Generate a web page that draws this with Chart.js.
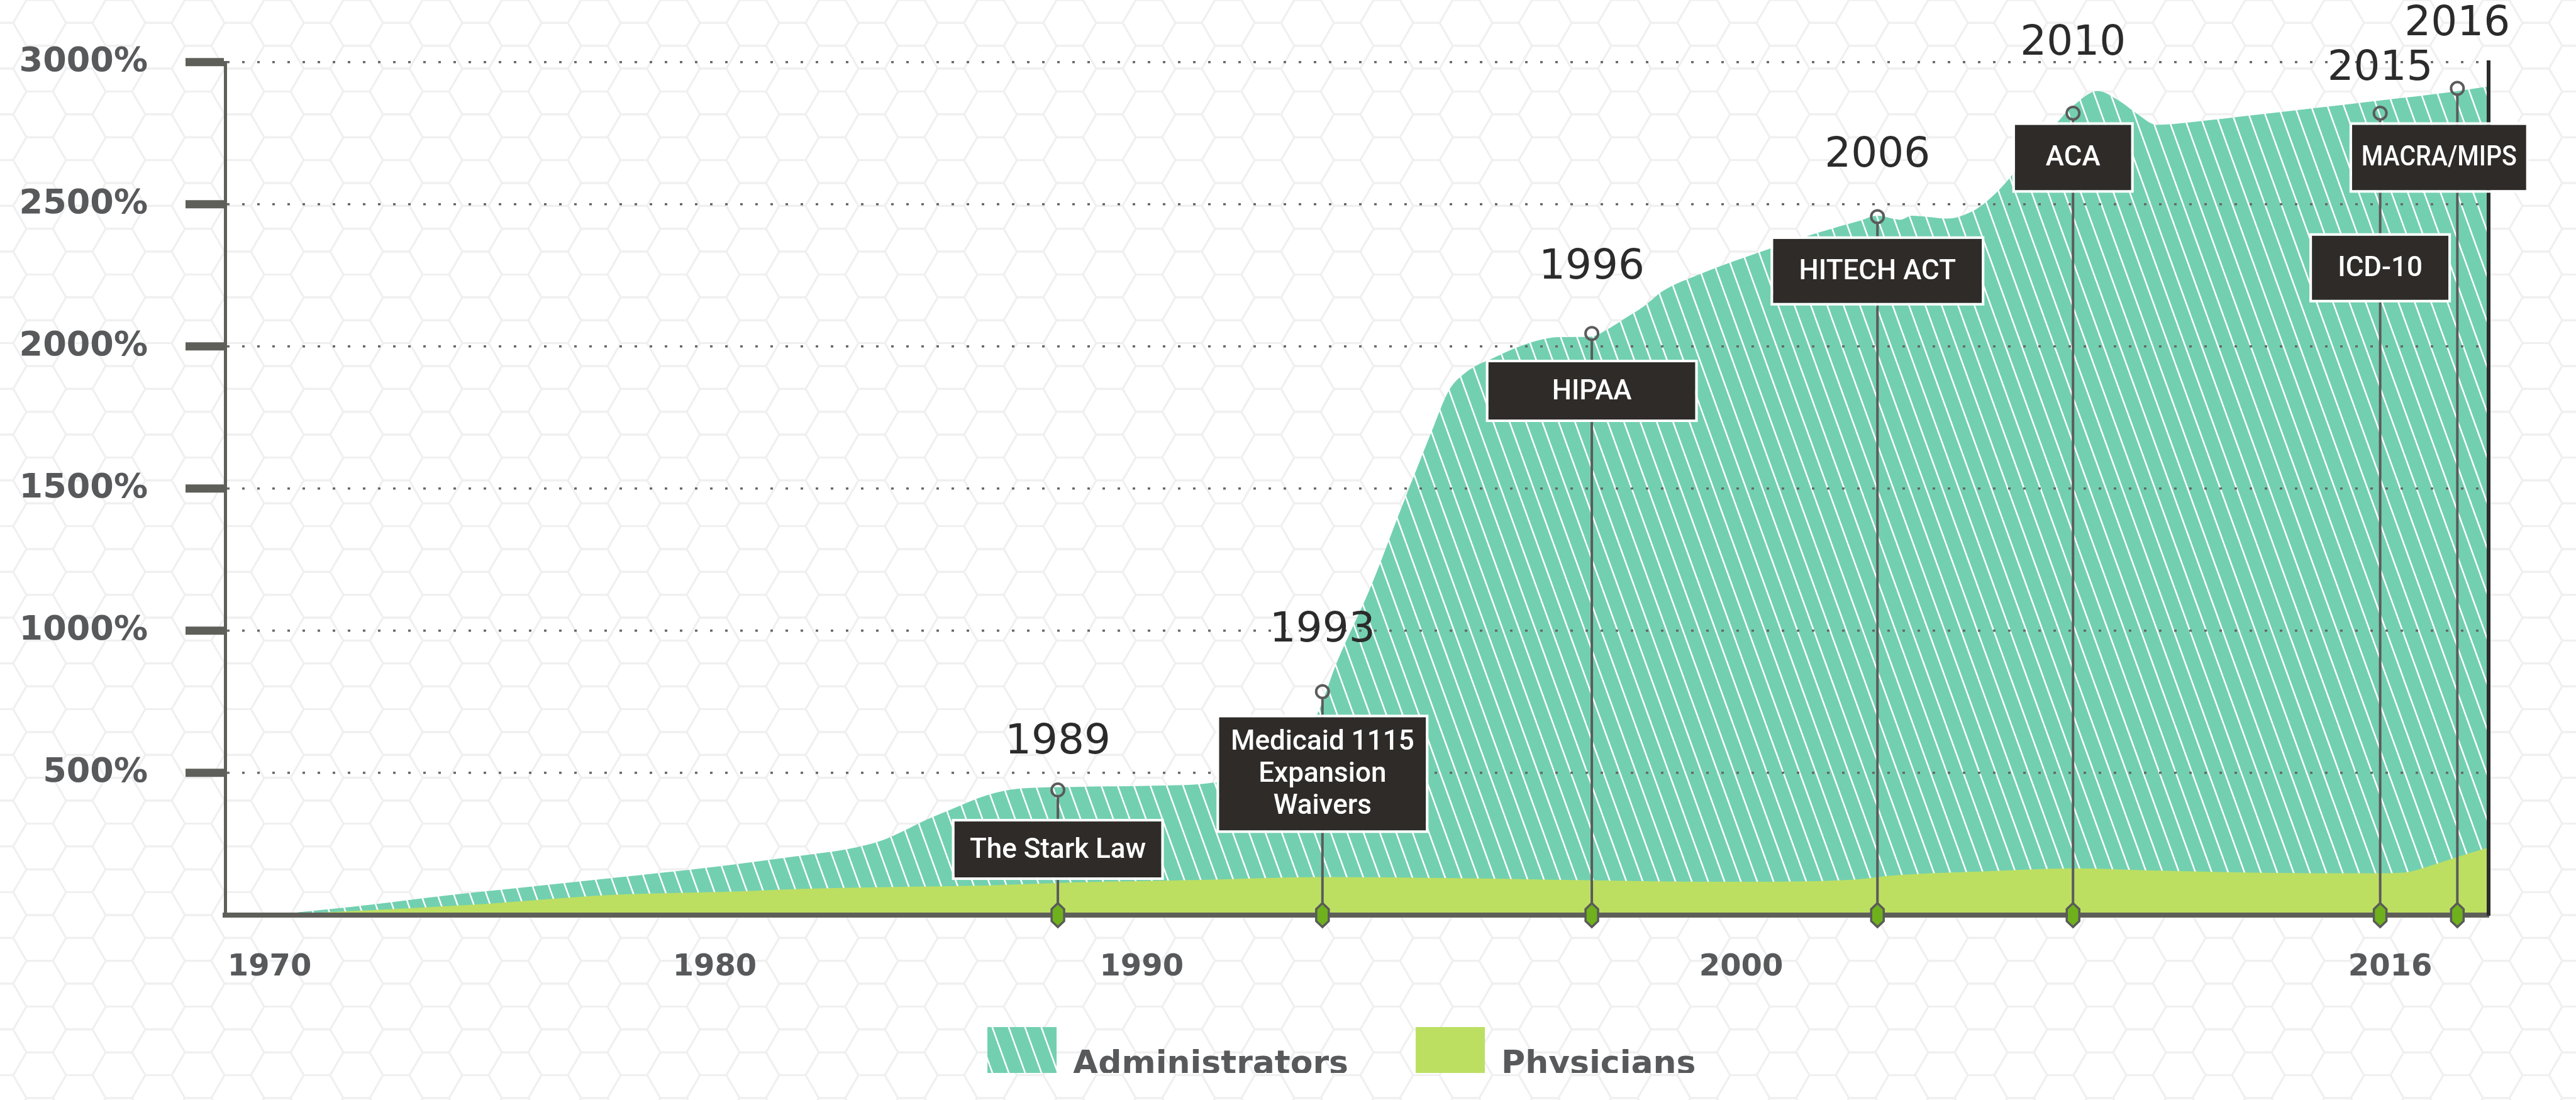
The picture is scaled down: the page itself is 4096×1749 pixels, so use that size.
<!DOCTYPE html>
<html>
<head>
<meta charset="utf-8">
<script src="https://cdn.jsdelivr.net/npm/chart.js@4.4.1/dist/chart.umd.min.js"></script>
<style>
  html, body { margin: 0; padding: 0; background: #fff; }
  #wrap { width: 4096px; height: 1749px; }
</style>
</head>
<body>
<div id="wrap"><canvas id="chart" width="4096" height="1749"></canvas></div>
<script>
// ---------- Data ----------
const adminYears = [1970, 1971.8, 1973.8, 1975.8, 1977.8, 1979.85, 1982.2, 1983.4, 1984.0, 1984.5,
  1985.0, 1985.4, 1986.1, 1987.2, 1988.0, 1989.2, 1990.2, 1991.2, 1992.0, 1992.9,
  1993.16, 1993.53, 1993.88, 1994.22, 1994.41, 1994.58, 1994.94, 1995.3, 1995.63, 1996.0,
  1996.4, 1996.84, 1997.4, 1997.9, 1998.9, 2000.0, 2001.7, 2003.5, 2005.24, 2006.0,
  2006.47, 2006.7, 2007.04, 2007.45, 2007.87, 2008.18, 2008.52, 2008.76, 2009.66, 2010.0,
  2010.4, 2010.79, 2011.04, 2011.36, 2011.95, 2012.94, 2013.9, 2014.89, 2015.68, 2016.4];
const adminValues = [0, 28, 66, 99, 132, 167, 208, 230, 247, 268,
  299, 326, 366, 424, 445, 451, 455, 466, 520, 702,
  889, 1149, 1433, 1704, 1846, 1905, 1965, 2012, 2033, 2035,
  2059, 2095, 2142, 2195, 2255, 2309, 2356, 2403, 2443, 2460,
  2446, 2460, 2456, 2450, 2470, 2503, 2557, 2604, 2785, 2846,
  2899, 2859, 2819, 2780, 2790, 2814, 2838, 2863, 2887, 2915];

const physYears = [1970, 1974.5, 1977.8, 1980.3, 1982.2, 1985.3, 1987.1, 1989.2, 1991.0, 1993.0,
  1994.5, 1996.1, 1999.1, 2003.0, 2005.35, 2006.17, 2007.08, 2008.18, 2010.0, 2011.26,
  2013.1, 2014.87, 2015.32, 2015.62, 2016.04, 2016.4];
const physValues = [0, 36, 72, 82, 92, 100, 104, 115, 124, 134,
  130, 122, 117, 119, 127, 137, 147, 154, 164, 157,
  149, 147, 150, 171, 208, 238];

const xTicks = [1970, 1980, 1990, 2000, 2016];
const yTicks = [0, 500, 1000, 1500, 2000, 2500, 3000];

const eventYears = [1989, 1993, 1996, 2006, 2010, 2015, 2016];
const eventNames = ['The Stark Law', 'Medicaid 1115\nExpansion\nWaivers', 'HIPAA', 'HITECH ACT', 'ACA', 'ICD-10', 'MACRA/MIPS'];
const eventMarks = [440, 786, 2046, 2457, 2821, 2821, 2908]; // height of the ring, in %

const TEAL = '#72d0b0';
const LIME = '#bcdf62';
const INK = '#58595b';
const AXIS = '#5f5f5a';

// ---------- Timeline scale: the infographic's year axis is not evenly spaced ----------
class TimelineScale extends Chart.LinearScale {
  static id = 'timeline';
  static defaults = { ticks: { callback: (v) => String(v) } };

  _frac(v) {
    const a = this.options.anchors;
    if (v <= a[0][0]) return a[0][1];
    for (let i = 1; i < a.length; i++) {
      if (v <= a[i][0]) {
        const [y0, f0] = a[i - 1];
        const [y1, f1] = a[i];
        return f0 + (v - y0) / (y1 - y0) * (f1 - f0);
      }
    }
    return a[a.length - 1][1];
  }
  getPixelForValue(v) {
    return this.getPixelForDecimal(this._frac(v));
  }
  getValueForPixel(p) {
    const f = this.getDecimalForPixel(p);
    const a = this.options.anchors;
    for (let i = 1; i < a.length; i++) {
      if (f <= a[i][1]) {
        const [y0, f0] = a[i - 1];
        const [y1, f1] = a[i];
        return y0 + (f - f0) / (f1 - f0) * (y1 - y0);
      }
    }
    return a[a.length - 1][0];
  }
  getPixelForTick(i) {
    const t = this.ticks[i];
    const at = (this.options.labelAt || {})[t.value];
    return this.getPixelForValue(at !== undefined ? at : t.value);
  }
}
Chart.register(TimelineScale);

// diagonal white hatch over teal
function hatch() {
  const w = 26, h = 72;
  const c = document.createElement('canvas');
  c.width = w; c.height = h;
  const g = c.getContext('2d');
  g.fillStyle = TEAL;
  g.fillRect(0, 0, w, h);
  g.strokeStyle = '#ffffff';
  g.lineWidth = 2.5;
  for (const off of [-w, 0, w]) {
    g.beginPath();
    g.moveTo(off, 0);
    g.lineTo(off + w, h);
    g.stroke();
  }
  return g.createPattern(c, 'repeat');
}

// faint honeycomb behind everything
const honeycomb = {
  id: 'honeycomb',
  beforeDraw(chart) {
    const { ctx, width, height } = chart;
    const R = 42, hh = R * Math.sqrt(3) / 2;
    ctx.save();
    ctx.strokeStyle = '#f0f0f0';
    ctx.lineWidth = 3;
    for (let col = 0, cx = 0; cx < width + R; col++, cx += 1.5 * R) {
      for (let cy = (col % 2) * hh; cy < height + hh; cy += 2 * hh) {
        ctx.beginPath();
        for (let k = 0; k < 6; k++) {
          const a = Math.PI / 3 * k;
          const px = cx + R * Math.cos(a), py = cy + R * Math.sin(a);
          if (k === 0) ctx.moveTo(px, py); else ctx.lineTo(px, py);
        }
        ctx.closePath();
        ctx.stroke();
      }
    }
    ctx.restore();
  },
};

// ---------- Event markers, labels and boxes ----------
const eventMarkers = {
  id: 'eventMarkers',
  afterDraw(chart, args, o) {
    const { ctx, scales: { x, y } } = chart;
    const base = y.getPixelForValue(0);
    eventYears.forEach((yr, i) => {
      const px = x.getPixelForValue(yr);
      const top = y.getPixelForValue(eventMarks[i]);
      const r = 10;
      ctx.save();
      ctx.strokeStyle = '#5b5b5b';
      ctx.lineWidth = 4;
      ctx.beginPath();
      ctx.moveTo(px, top + r);
      ctx.lineTo(px, base);
      ctx.stroke();
      ctx.beginPath();
      ctx.arc(px, top, r, 0, Math.PI * 2);
      ctx.stroke();

      // foot marker on the baseline
      const fw = 10, fh = 19;
      ctx.beginPath();
      ctx.moveTo(px, base - fh);
      ctx.lineTo(px + fw, base - fh / 2);
      ctx.lineTo(px + fw, base + fh / 2);
      ctx.lineTo(px, base + fh);
      ctx.lineTo(px - fw, base + fh / 2);
      ctx.lineTo(px - fw, base - fh / 2);
      ctx.closePath();
      ctx.fillStyle = '#6fb11c';
      ctx.fill();
      ctx.lineWidth = 3.5;
      ctx.strokeStyle = '#5a5a5a';
      ctx.stroke();

      // dark label box
      const bw = o.boxW[i], bh = o.boxH[i];
      const bx = px + o.boxShift[i] - bw / 2;
      const by = y.getPixelForValue(o.boxAt[i]) - bh / 2;
      ctx.fillStyle = '#2f2b28';
      ctx.fillRect(bx, by, bw, bh);
      ctx.strokeStyle = '#ffffff';
      ctx.lineWidth = 4;
      ctx.strokeRect(bx - 2, by - 2, bw + 4, bh + 4);
      ctx.fillStyle = '#ffffff';
      ctx.font = '500 44px Roboto';
      ctx.textAlign = 'center';
      ctx.textBaseline = 'middle';
      const lines = eventNames[i].split('\n');
      const lh = 51;
      lines.forEach((t, k) => {
        ctx.fillText(t, bx + bw / 2, by + bh / 2 + (k - (lines.length - 1) / 2) * lh + 2, bw - 30);
      });

      // year above the ring
      ctx.fillStyle = '#2b2b2b';
      ctx.font = '66px "DejaVu Sans"';
      ctx.fillText(String(yr), px, y.getPixelForValue(o.yearAt[i]));
      ctx.restore();
    });
  },
};

// place the legend under the middle of the plot, running off the bottom edge
const legendPlace = {
  id: 'legendPlace',
  afterLayout(chart) {
    const lg = chart.legend;
    const pad = lg.options.labels.padding;
    const dx = 1570 - pad - lg.left;
    const dy = 1633 - pad - lg.top;
    lg.left += dx; lg.right += dx;
    lg.top += dy; lg.bottom += dy;
  },
};

const tickFont = { family: 'DejaVu Sans', weight: 'bold' };

new Chart(document.getElementById('chart'), {
  type: 'line',
  data: {
    datasets: [
      {
        label: 'Administrators',
        data: adminYears.map((yr, i) => ({ x: yr, y: adminValues[i] })),
        backgroundColor: hatch(),
        borderColor: 'transparent',
        borderWidth: 0,
        fill: 'origin',
        pointRadius: 0,
        cubicInterpolationMode: 'monotone',
        order: 2,
      },
      {
        label: 'Physicians',
        data: physYears.map((yr, i) => ({ x: yr, y: physValues[i] })),
        backgroundColor: LIME,
        borderColor: 'transparent',
        borderWidth: 0,
        fill: 'origin',
        pointRadius: 0,
        cubicInterpolationMode: 'monotone',
        order: 1,
      },
    ],
  },
  options: {
    responsive: false,
    animation: false,
    devicePixelRatio: 1,
    events: [],
    layout: { padding: { top: 99, right: 139, left: 0, bottom: 0 } },
    scales: {
      x: {
        type: 'timeline',
        min: 1969,
        max: 2016.4,
        anchors: [[1969, 0], [1970, 0.0196], [1980, 0.2163], [1989, 0.3679], [1990, 0.4049],
          [1993, 0.4848], [1996, 0.6038], [2000, 0.6698], [2006, 0.7300], [2010, 0.8164],
          [2015, 0.9521], [2016, 0.9862], [2016.4, 1]],
        labelAt: { 2016: 2015.13 },
        afterBuildTicks: (s) => { s.ticks = xTicks.map((v) => ({ value: v })); },
        afterFit: (s) => { s.height = 114; },
        ticks: {
          padding: 55,
          color: INK,
          font: { ...tickFont, size: 48 },
          autoSkip: false,
          maxRotation: 0,
          callback: (v) => String(v),
        },
        grid: { drawOnChartArea: false, drawTicks: false },
        border: { color: AXIS, width: 8, z: 1 },
      },
      y: {
        min: 0,
        max: 3000,
        afterBuildTicks: (s) => { s.ticks = yTicks.map((v) => ({ value: v })); },
        afterFit: (s) => { s.width = 358; },
        ticks: {
          padding: 60,
          color: INK,
          font: { ...tickFont, size: 54 },
          callback: (v) => (v === 0 ? '' : v + '%'),
        },
        grid: {
          color: (c) => (c.tick && c.tick.value === 0 ? 'rgba(0,0,0,0)' : '#66676a'),
          lineWidth: 3.5,
          tickLength: 63,
          tickWidth: 13,
          tickColor: (c) => (c.tick && c.tick.value === 0 ? 'rgba(0,0,0,0)' : AXIS),
          z: 1,
        },
        border: { color: AXIS, width: 5, dash: [4, 20], z: 1 },
      },
      y2: {
        position: 'right',
        min: 0,
        max: 3000,
        afterFit: (s) => { s.width = 0; },
        ticks: { display: false },
        grid: { display: false },
        border: { color: '#2b2b2b', width: 6, z: 1 },
      },
    },
    plugins: {
      tooltip: { enabled: false },
      legend: {
        position: 'bottom',
        align: 'start',
        maxHeight: 180,
        labels: {
          sort: (a, b) => a.datasetIndex - b.datasetIndex,
          boxWidth: 110,
          boxHeight: 120,
          padding: 107,
          color: INK,
          font: { ...tickFont, size: 52 },
        },
      },
      eventMarkers: {
        yearAt: [607, 1000, 2277, 2670, 3064, 2977, 3133],
        boxAt: [231, 497, 1844, 2266, 2665, 2277, 2665],
        boxW: [329, 329, 329, 332, 185, 217, 277],
        boxH: [89, 180, 91, 102, 104, 102, 104],
        boxShift: [0, 0, 0, 0, 0, 0, -29],
      },
    },
  },
  plugins: [honeycomb, legendPlace, eventMarkers],
});
</script>
</body>
</html>
